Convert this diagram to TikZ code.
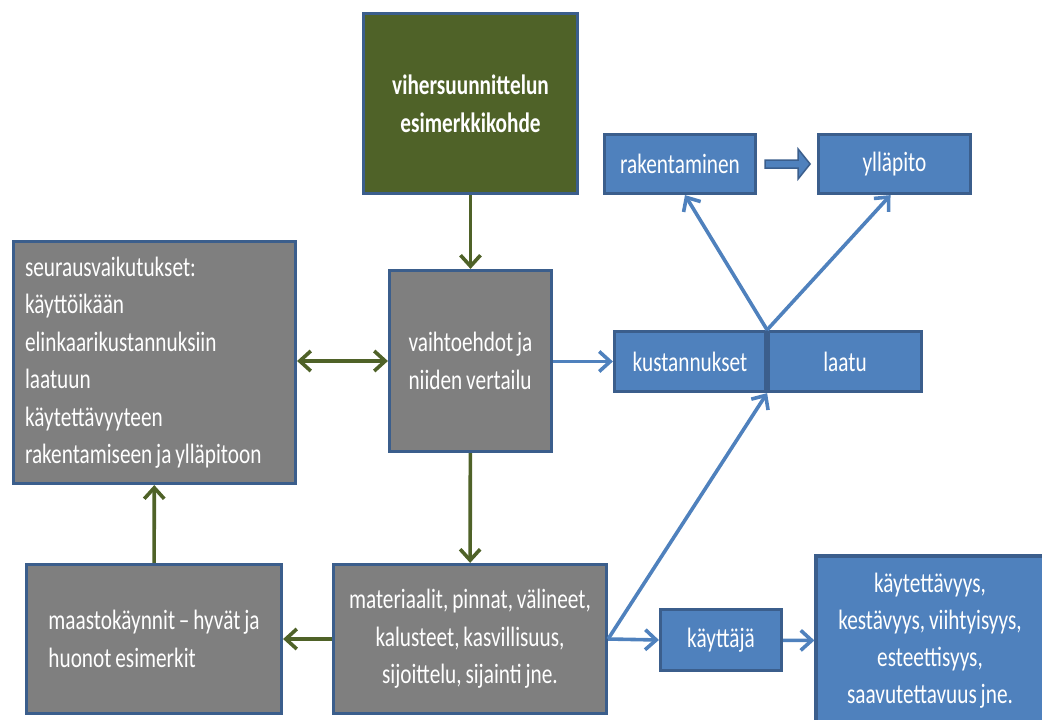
\documentclass[tikz,border=0pt]{standalone}
\usepackage{fontspec}
\setmainfont{Carlito}[FakeStretch=0.76, WordSpace=0.8]
\usetikzlibrary{arrows.meta}

\definecolor{boxblue}{HTML}{4F81BD}
\definecolor{edgeblue}{HTML}{3B5E8C}
\definecolor{boxgray}{HTML}{7F7F7F}
\definecolor{boxolive}{HTML}{4F6228}

\tikzset{
  box/.style={draw=edgeblue, line width=3.2pt, text=white, inner sep=0pt,
    font=\fontsize{28}{37.5}\selectfont},
  graybox/.style={box, fill=boxgray},
  bluebox/.style={box, fill=boxblue},
  olivebox/.style={box, fill=boxolive},
  greenline/.style={draw=boxolive, line width=3.6pt,
    -{Straight Barb[length=11pt, width=20pt]}},
  blueline/.style={draw=boxblue, line width=3.6pt,
    -{Straight Barb[length=11pt, width=20pt]}}
}

\begin{document}
\begin{tikzpicture}[x=1pt, y=-1pt]
    \useasboundingbox (0,0) rectangle (1042,720);

    % boxes of the plan
    \node[olivebox, minimum width=214, minimum height=180, align=center, font=\fontsize{28}{38}\selectfont\bfseries]
        (kohde) at (470.5,103.5) {vihersuunnittelun\\esimerkkikohde};
    \node[graybox, minimum width=162, minimum height=181, align=left]
        (vaihto) at (470.5,361) {vaihtoehdot ja\\niiden vertailu};
    \node[graybox, minimum width=282, minimum height=242, text width=259, align=left]
        (seuraus) at (154.5,362.5) {\spaceskip=0pt\relax seurausvaikutukset:\\käyttöikään\\elinkaarikustannuksiin\\laatuun\\käytettävyyteen\\rakentamiseen ja ylläpitoon};
    \node[graybox, minimum width=273, minimum height=149, align=center]
        (materiaalit) at (470,639) {materiaalit, pinnat, välineet,\\kalusteet, kasvillisuus,\\sijoittelu, sijainti jne.};
    \node[graybox, minimum width=255, minimum height=149, align=left]
        (maasto) at (154,639) {maastokäynnit – hyvät ja\\huonot esimerkit};

    % blue boxes
    \node[bluebox, minimum width=151, minimum height=59] (rak) at (680,164) {rakentaminen};
    \node[bluebox, minimum width=152, minimum height=59] (yll) at (894.5,164) {ylläpito};
    \node[bluebox, minimum width=151, minimum height=60] (kust) at (690,361.5) {kustannukset};
    \node[bluebox, minimum width=153, minimum height=60] (laatu) at (845,361.5) {laatu};
    \node[bluebox, minimum width=121, minimum height=61] (kayttaja) at (721,640) {käyttäjä};
    \node[bluebox, minimum width=228, minimum height=170, align=center, font=\fontsize{28}{37}\selectfont]
        (ominais) at (930,641) {käytettävyys,\\kestävyys, viihtyisyys,\\esteettisyys,\\saavutettavuus jne.};

    % green connectors
    \draw[greenline] (kohde) -- (vaihto);
    \draw[greenline, {Straight Barb[length=11pt, width=20pt]}-{Straight Barb[length=11pt, width=20pt]}]
        (seuraus.east |- vaihto.west) -- (vaihto.west);
    \draw[greenline] (vaihto) -- (materiaalit);
    \draw[greenline] (materiaalit) -- (maasto);
    \draw[greenline] (maasto) -- (seuraus);

    % blue connectors
    \coordinate (haara) at (materiaalit.east);
    \draw[blueline] (vaihto.east |- kust.west) -- (kust.west);
    \draw[blueline] (kust.north east) -- ([xshift=5pt]rak.south);
    \draw[blueline] (kust.north east) -- ([xshift=-4pt]yll.south);
    \draw[blueline] (haara) -- (kust.south east);
    \draw[blueline] (haara) -- (kayttaja.west);
    \draw[blueline] (kayttaja) -- (ominais);

    % block arrow
    \draw[fill=boxblue, draw=edgeblue, line width=1.5pt]
        ([xshift=8pt, yshift=4pt]rak.east) -- ++(33,0) -- ++(0,-11) -- ++(12,15)
        -- ++(-12,15) -- ++(0,-11) -- ++(-33,0) -- cycle;
\end{tikzpicture}
\end{document}
